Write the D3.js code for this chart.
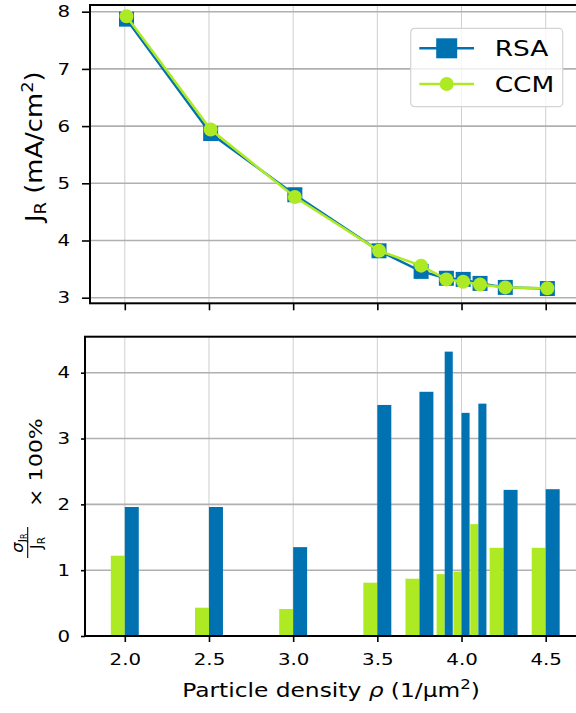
<!DOCTYPE html>
<html>
<head>
<meta charset="utf-8">
<script src="https://cdn.jsdelivr.net/npm/d3@7"></script>
<style>
  body { margin: 0; background: #fff; }
  svg { display: block; font-family: "DejaVu Sans", sans-serif; }
</style>
</head>
<body>
<div id="chart"></div>
<script>
// particle density rho (1/um^2)
const density = [2.0, 2.5, 3.0, 3.5, 3.75, 3.9, 4.0, 4.1, 4.25, 4.5];
// the upper panel plots its points a hair to the right
const densityTop = [2.01, 2.51, 3.01, 3.51, 3.76, 3.91, 4.01, 4.11, 4.26, 4.51];

// mean J_R (mA/cm^2)
const jRSA = [7.87, 5.87, 4.80, 3.82, 3.46, 3.34, 3.32, 3.25, 3.18, 3.16];
const jCCM = [7.92, 5.94, 4.76, 3.82, 3.56, 3.32, 3.28, 3.23, 3.18, 3.165];

// relative std of J_R, in %
const relCCM = [1.22, 0.43, 0.41, 0.81, 0.87, 0.94, 0.98, 1.70, 1.34, 1.34];
const relRSA = [1.96, 1.96, 1.35, 3.51, 3.71, 4.32, 3.39, 3.53, 2.22, 2.23];

const seriesNames = ["RSA", "CCM"];
const xTicks = [2.0, 2.5, 3.0, 3.5, 4.0, 4.5];
const yTicksTop = [3, 4, 5, 6, 7, 8];
const yTicksBot = [0, 1, 2, 3, 4];

const blue = "#0072b2", green = "#aeea24";
const W = 576, H = 713;
const textStretch = 1.2; // the original font runs wider than DejaVu

const svg = d3.select("#chart").append("svg")
    .attr("width", W)
    .attr("height", H);

const x = d3.scaleLinear().domain([2, 4.5]).range([124.8, 545.7]);

// panel boxes (right side runs off the picture)
const boxTop = {left: 90, top: 5, bottom: 303.3, right: 620};
const boxBot = {left: 85, top: 336.7, bottom: 636, right: 620};

const yTop = d3.scaleLinear().domain([3, 8]).range([297.7, 11.7]);
const yBot = d3.scaleLinear().domain([0, 4]).range([636, 372.7]);

function grid(g, box, yScale, yVals) {
  g.selectAll(".vg").data(xTicks).join("line")
    .attr("x1", d => x(d)).attr("x2", d => x(d))
    .attr("y1", box.top).attr("y2", box.bottom)
    .attr("stroke", "#cfcfcf").attr("stroke-width", 1);
  g.selectAll(".hg").data(yVals).join("line")
    .attr("x1", box.left).attr("x2", box.right)
    .attr("y1", d => yScale(d)).attr("y2", d => yScale(d))
    .attr("stroke", "#b0b0b0").attr("stroke-width", 1.6);
}

function spines(box) {
  svg.append("rect")
    .attr("x", box.left).attr("y", box.top)
    .attr("width", box.right - box.left).attr("height", box.bottom - box.top)
    .attr("fill", "none").attr("stroke", "#000").attr("stroke-width", 2);
}

function styleAxis(g, fontSize) {
  g.select(".domain").remove();
  g.selectAll(".tick line").attr("stroke", "#000").attr("stroke-width", 1.6);
  g.selectAll("text").attr("font-size", fontSize).attr("fill", "#000")
    .attr("font-family", "DejaVu Sans");
}

// stretch a text horizontally (in its own frame) so it spans w px
function fit(sel, w) {
  const bw = sel.node().getBBox().width;
  sel.attr("transform", "scale(" + (w / bw) + ",1)");
}

// ---------------- upper panel ----------------
const gTop = svg.append("g");
grid(gTop, boxTop, yTop, yTicksTop);

const line = d3.line()
  .x((d, i) => x(densityTop[i]))
  .y(d => yTop(d));

gTop.append("path").datum(jRSA)
  .attr("d", line).attr("fill", "none")
  .attr("stroke", blue).attr("stroke-width", 2.5);
gTop.selectAll(".sq").data(jRSA).join("rect")
  .attr("x", (d, i) => x(densityTop[i]) - 7.5)
  .attr("y", d => yTop(d) - 7.5)
  .attr("width", 15).attr("height", 15)
  .attr("fill", blue);

gTop.append("path").datum(jCCM)
  .attr("d", line).attr("fill", "none")
  .attr("stroke", green).attr("stroke-width", 2.5);
gTop.selectAll(".ci").data(jCCM).join("circle")
  .attr("cx", (d, i) => x(densityTop[i]))
  .attr("cy", d => yTop(d))
  .attr("r", 7).attr("fill", green);

spines(boxTop);

const axTopY = svg.append("g")
  .attr("transform", "translate(" + boxTop.left + ",0)")
  .call(d3.axisLeft(yTop).tickValues(yTicksTop).tickFormat(d3.format("d"))
    .tickSize(8).tickPadding(12));
styleAxis(axTopY, 16.5);
axTopY.selectAll("text")
  .attr("x", -20 / textStretch)
  .attr("transform", "scale(" + textStretch + ",1)");

const axTopX = svg.append("g")
  .attr("transform", "translate(0," + boxTop.bottom + ")")
  .call(d3.axisBottom(x).tickValues(xTicks).tickFormat("").tickSize(7));
styleAxis(axTopX, 16);

// legend
const leg = svg.append("g").attr("transform", "translate(410.7,28.3)");
leg.append("rect")
  .attr("width", 152).attr("height", 78.4).attr("rx", 4)
  .attr("fill", "#fff").attr("fill-opacity", 0.8)
  .attr("stroke", "#d4d4d4").attr("stroke-width", 1.2);
const legRows = leg.selectAll(".row").data(seriesNames).join("g")
  .attr("transform", (d, i) => "translate(0," + (20 + i * 35.7) + ")");
legRows.append("line")
  .attr("x1", 8.6).attr("x2", 63.3)
  .attr("stroke", (d, i) => i === 0 ? blue : green).attr("stroke-width", 2.5);
legRows.filter((d, i) => i === 0).append("rect")
  .attr("x", 36 - 10.5).attr("y", -10).attr("width", 21).attr("height", 20)
  .attr("fill", blue);
legRows.filter((d, i) => i === 1).append("circle")
  .attr("cx", 36).attr("r", 7).attr("fill", green);
legRows.append("g").attr("transform", "translate(84,8)")
  .append("text")
  .attr("font-size", 22).attr("fill", "#000")
  .text(d => d)
  .attr("transform", "scale(" + textStretch + ",1)");

// y label: J_R (mA/cm^2)
const yLabTop = svg.append("g").attr("transform", "translate(41.5,146.7) rotate(-90)")
  .append("text").attr("text-anchor", "middle").attr("font-size", 23).attr("fill", "#000");
yLabTop.append("tspan").text("J");
yLabTop.append("tspan").attr("font-size", 16).attr("dy", 4).text("R");
yLabTop.append("tspan").attr("dy", -4).text(" (mA/cm");
yLabTop.append("tspan").attr("font-size", 16).attr("dy", -9).text("2");
yLabTop.append("tspan").attr("dy", 9).text(")");
fit(yLabTop, 153);

// ---------------- lower panel ----------------
const gBot = svg.append("g");
grid(gBot, boxBot, yBot, yTicksBot.slice(1));

// bars sit either side of their density: CCM left, RSA right
const barW = density.map((d, i) => {
  const gaps = [];
  if (i > 0) gaps.push(d - density[i - 1]);
  if (i < density.length - 1) gaps.push(density[i + 1] - d);
  return d3.min(gaps) < 0.12 ? 0.048 : 0.083;
});

gBot.selectAll(".bc").data(relCCM).join("rect")
  .attr("x", (d, i) => x(density[i] - barW[i]))
  .attr("width", (d, i) => x(density[i]) - x(density[i] - barW[i]))
  .attr("y", d => yBot(d))
  .attr("height", d => yBot(0) - yBot(d))
  .attr("fill", green);
gBot.selectAll(".br").data(relRSA).join("rect")
  .attr("x", (d, i) => x(density[i]))
  .attr("width", (d, i) => x(density[i] + barW[i]) - x(density[i]))
  .attr("y", d => yBot(d))
  .attr("height", d => yBot(0) - yBot(d))
  .attr("fill", blue);

spines(boxBot);

const axBotY = svg.append("g")
  .attr("transform", "translate(" + boxBot.left + ",0)")
  .call(d3.axisLeft(yBot).tickValues(yTicksBot).tickFormat(d3.format("d"))
    .tickSize(4).tickPadding(11));
styleAxis(axBotY, 16.5);
axBotY.selectAll("text")
  .attr("x", -15 / textStretch)
  .attr("transform", "scale(" + textStretch + ",1)");

const axBotX = svg.append("g")
  .attr("transform", "translate(0," + boxBot.bottom + ")")
  .call(d3.axisBottom(x).tickValues(xTicks).tickFormat(d3.format(".1f"))
    .tickSize(6).tickPadding(11));
styleAxis(axBotX, 16.5);
axBotX.selectAll("text").attr("transform", "scale(" + textStretch + ",1)");

// x label
const xLab = svg.append("g").attr("transform", "translate(331,697.3)")
  .append("text").attr("text-anchor", "middle").attr("font-size", 19).attr("fill", "#000");
xLab.append("tspan").text("Particle density ");
xLab.append("tspan").attr("font-style", "italic").text("ρ");
xLab.append("tspan").text(" (1/μm");
xLab.append("tspan").attr("font-size", 13.5).attr("dy", -8).text("2");
xLab.append("tspan").attr("dy", 8).text(")");
fit(xLab, 298);

// y label: sigma_{J_R} / J_R x 100%
const yLabBot = svg.append("g").attr("transform", "translate(42,487) rotate(-90)");
yLabBot.append("line")
  .attr("x1", -71).attr("x2", -40).attr("y1", -14.3).attr("y2", -14.3)
  .attr("stroke", "#000").attr("stroke-width", 1.1);
const num = yLabBot.append("g").attr("transform", "translate(-56,-19)")
  .append("text").attr("text-anchor", "middle").attr("font-size", 16.5).attr("fill", "#000");
num.append("tspan").attr("font-style", "italic").text("σ");
num.append("tspan").attr("font-size", 11).attr("dy", 2.5).text("J");
num.append("tspan").attr("font-size", 8).attr("dy", 1.5).text("R");
const den = yLabBot.append("g").attr("transform", "translate(-56,0)")
  .append("text").attr("text-anchor", "middle").attr("font-size", 15.5).attr("fill", "#000");
den.append("tspan").text("J");
den.append("tspan").attr("font-size", 10.5).attr("dy", 2.5).text("R");
const pct = yLabBot.append("g").attr("transform", "translate(-20,0)")
  .append("text").attr("font-size", 17.5).attr("fill", "#000").text("× 100%");
fit(pct, 89);
</script>
</body>
</html>
